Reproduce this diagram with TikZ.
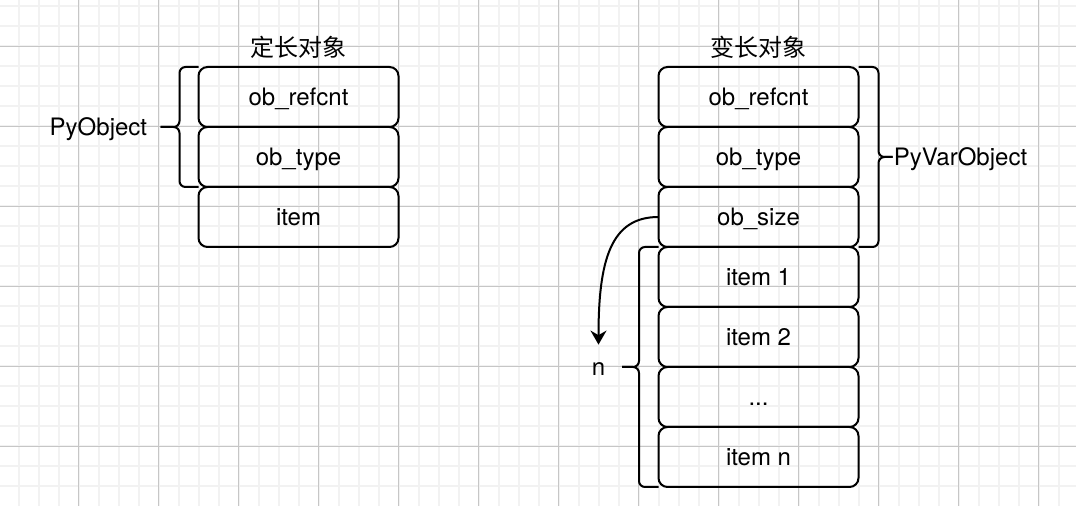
\documentclass[tikz,border=0pt]{standalone}
\usepackage{fontspec}
\setmainfont{TeX Gyre Heros}
\newfontfamily\cjk{Noto Sans CJK SC}
\usetikzlibrary{arrows.meta, positioning}
\definecolor{gridminor}{HTML}{F2F2F2}
\definecolor{gridmajor}{HTML}{C6C6C6}

\begin{document}
\begin{tikzpicture}[x=0.5pt, y=-0.5pt,
  font=\fontsize{12}{14}\selectfont,
  field/.style={draw, line width=1pt, rounded corners=4.5pt, minimum width=100pt,
    minimum height=30pt, inner sep=0pt, outer sep=0pt, text height=9pt, text depth=0pt},
  side/.style={inner sep=0pt, text height=9pt, text depth=0pt},
  title/.style={font=\cjk\fontsize{12}{14}\selectfont},
  brace/.style={line width=1pt, rounded corners=3pt},
  minor/.style={line width=1pt, gridminor},
  major/.style={line width=0.6pt, gridmajor}]
\useasboundingbox (0,0) rectangle (1076,506);

% Grid paper
\foreach \x in {18.5,38.5,...,1076} \draw[minor] (\x,0) -- (\x,506);
\foreach \y in {6.5,26.5,...,506} \draw[minor] (0,\y) -- (1076,\y);
\foreach \x in {78.5,158.5,...,1076} \draw[major] (\x,0) -- (\x,506);
\foreach \y in {46.5,126.5,...,506} \draw[major] (0,\y) -- (1076,\y);

% Fixed-size object
\node[field] (f1) at (298.5,97) {ob\_refcnt};
\node[field, below=0pt of f1] (f2) {ob\_type};
\node[field, below=0pt of f2] (f3) {item};
\node[title] (fixtitle) at ([yshift=10pt]f1.north) {定长对象};

% PyObject brace
\draw[brace] (f1.north west) -| ([xshift=-9.5pt]f1.south west) -- ([xshift=-19pt]f1.south west);
\draw[brace] (f2.south west) -| ([xshift=-9.5pt]f1.south west) -- ([xshift=-19pt]f1.south west);
\node[side, anchor=east] (pyobj) at ([xshift=-25.5pt]f1.south west) {PyObject};

% Variable-size object
\node[field] (v1) at (758.5,97) {ob\_refcnt};
\node[field, below=0pt of v1] (v2) {ob\_type};
\node[field, below=0pt of v2] (v3) {ob\_size};
\node[field, below=0pt of v3] (v4) {item 1};
\node[field, below=0pt of v4] (v5) {item 2};
\node[field, below=0pt of v5] (v6) {...};
\node[field, below=0pt of v6] (v7) {item n};
\node[title] (vartitle) at ([yshift=10pt]v1.north) {变长对象};

% PyVarObject brace
\draw[brace] (v1.north east) -| ([xshift=10pt]v2.east) -- ([xshift=17pt]v2.east);
\draw[brace] (v3.south east) -| ([xshift=10pt]v2.east) -- ([xshift=17pt]v2.east);
\node[side, anchor=west, xshift=0.5pt] (pyvar) at ([xshift=17pt]v2.east) {PyVarObject};

% Items brace and size
\draw[brace] (v4.north west) -| ([xshift=-9.75pt]v5.south west) -- ([xshift=-18.25pt]v5.south west);
\draw[brace] (v7.south west) -| ([xshift=-9.75pt]v5.south west) -- ([xshift=-18.25pt]v5.south west);
\node[side] (nlabel) at ([xshift=-30pt]v5.south west) {n};
\draw[-{Stealth[length=7pt, width=8pt]}, line width=1pt] (v3.west)
  .. controls +(-24pt,0pt) and +(0pt,42pt) .. ([yshift=6.5pt]nlabel.north);
\end{tikzpicture}
\end{document}
